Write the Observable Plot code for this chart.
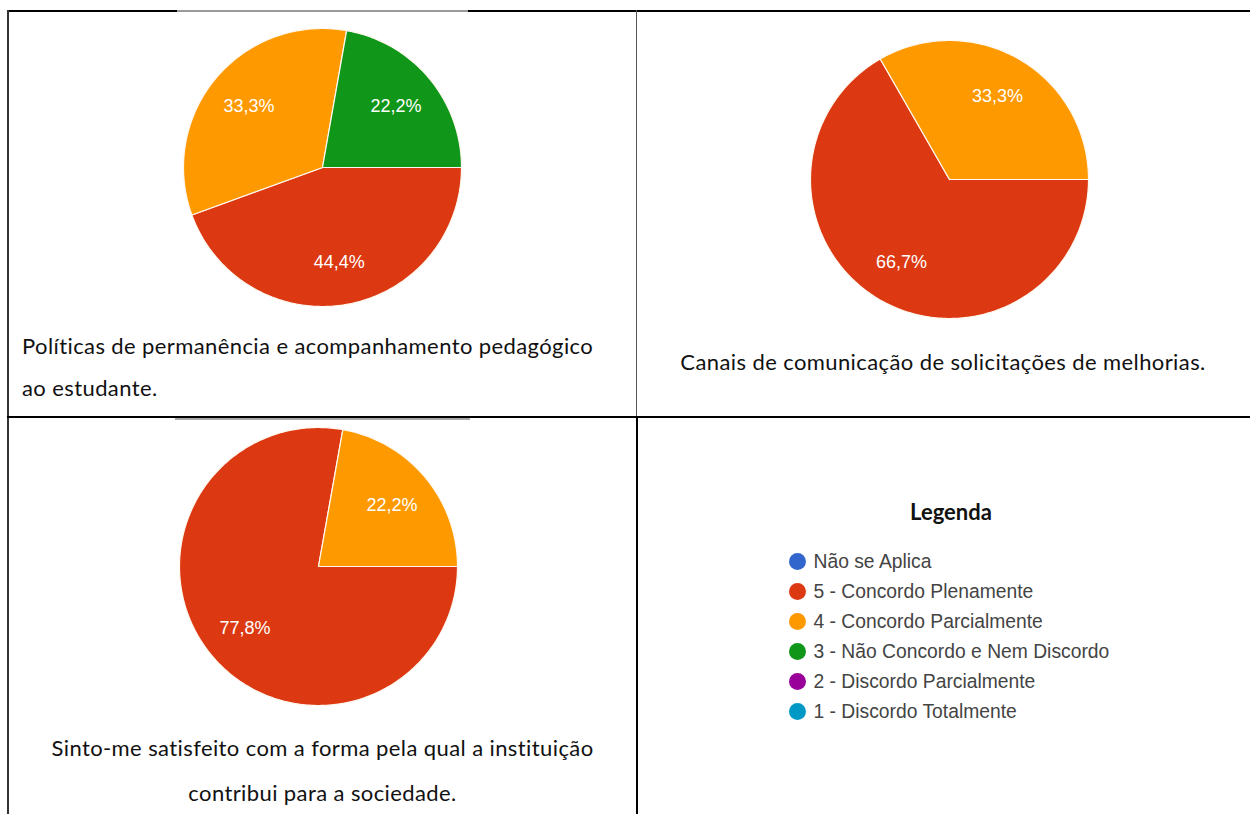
<!DOCTYPE html>
<html><head><meta charset="utf-8">
<script src="https://cdn.jsdelivr.net/npm/d3@7"></script>
<script src="https://cdn.jsdelivr.net/npm/@observablehq/plot@0.6"></script>
<style>
html,body{margin:0;padding:0;background:#fff;}
body{width:1250px;height:814px;position:relative;overflow:hidden;}
.cap{position:absolute;font-family:Lato,"Open Sans",sans-serif;font-size:22px;letter-spacing:0.4px;color:#111;line-height:42px;white-space:nowrap;}
.line{position:absolute;background:#000;}
</style></head><body>
<script>
// ---- data ----
const categories = ["Não se Aplica","5 - Concordo Plenamente","4 - Concordo Parcialmente","3 - Não Concordo e Nem Discordo","2 - Discordo Parcialmente","1 - Discordo Totalmente"];
const colors = ["#3366cc","#dc3912","#ff9900","#109618","#990099","#0099c6"];

const pie1Title = ["Políticas de permanência e acompanhamento pedagógico","ao estudante."];
const pie1Categories = ["5 - Concordo Plenamente","4 - Concordo Parcialmente","3 - Não Concordo e Nem Discordo"];
const pie1Values = [44.4, 33.3, 22.2];

const pie2Title = ["Canais de comunicação de solicitações de melhorias."];
const pie2Categories = ["5 - Concordo Plenamente","4 - Concordo Parcialmente"];
const pie2Values = [66.7, 33.3];

const pie3Title = ["Sinto-me satisfeito com a forma pela qual a instituição","contribui para a sociedade."];
const pie3Categories = ["5 - Concordo Plenamente","4 - Concordo Parcialmente"];
const pie3Values = [77.8, 22.2];

const legendTitle = "Legenda";

// ---- helpers ----
const fmt = d3.formatLocale({decimal:",", thousands:".", grouping:[3], currency:["R$",""]}).format(".1%");

function piePlot(cats, vals) {
  const arcs = d3.pie().sort(null).value(d => d)
    .startAngle(Math.PI/2).endAngle(Math.PI/2 + 2*Math.PI)(vals);
  const poly = [], labels = [];
  arcs.forEach((a, i) => {
    const n = Math.max(2, Math.ceil((a.endAngle - a.startAngle) / (Math.PI/180)));
    poly.push({slice:i, x:0, y:0, cat:cats[i]});
    for (let k = 0; k <= n; k++) {
      const t = a.startAngle + (a.endAngle - a.startAngle) * k / n;
      poly.push({slice:i, x:Math.sin(t), y:Math.cos(t), cat:cats[i]});
    }
    poly.push({slice:i, x:0, y:0, cat:cats[i]});
    const m = (a.startAngle + a.endAngle) / 2;
    labels.push({x:0.69*Math.sin(m), y:0.69*Math.cos(m), text:fmt(vals[i]/100)});
  });
  return Plot.plot({
    width:300, height:300, margin:11,
    style:{background:"transparent", overflow:"visible"},
    x:{domain:[-1,1], axis:null},
    y:{domain:[-1,1], axis:null},
    color:{domain:categories, range:colors},
    marks:[
      Plot.line(poly, {x:"x", y:"y", z:"slice", fill:"cat", stroke:"#fff8f0", strokeWidth:1.2, curve:"linear"}),
      Plot.text(labels, {x:"x", y:"y", text:"text", fill:"#fff", fontSize:18, fontFamily:"Liberation Sans, Arial, sans-serif"})
    ]
  });
}

function place(el, left, top) {
  el.style.position = "absolute";
  el.style.left = left + "px";
  el.style.top = top + "px";
  document.body.appendChild(el);
}
function div(cls, css, text) {
  const d = document.createElement("div");
  d.className = cls;
  Object.assign(d.style, css);
  if (text != null) d.textContent = text;
  document.body.appendChild(d);
  return d;
}

// ---- table borders ----
div("line", {left:"7px", top:"10px", width:"1243px", height:"2px"});
div("line", {left:"7px", top:"10px", width:"2px", height:"804px", background:"#333"});
div("line", {left:"636px", top:"10px", width:"1px", height:"407px", background:"#555"});
div("line", {left:"636px", top:"416px", width:"2px", height:"398px"});
div("line", {left:"7px", top:"416px", width:"1243px", height:"2px"});
// top edges of the chart images
div("line", {left:"177px", top:"10px", width:"291px", height:"2px", background:"#9a9a9a"});
div("line", {left:"175px", top:"418px", width:"295px", height:"1.5px", background:"#aaa"});

// ---- pies ----
place(piePlot(pie1Categories, pie1Values), 322-150, 167-150);
place(piePlot(pie2Categories, pie2Values), 949-150, 179-150);
place(piePlot(pie3Categories, pie3Values), 318-150, 566-150);

// ---- captions ----
div("cap", {left:"22px", top:(346-21)+"px"}, pie1Title[0]);
div("cap", {left:"22px", top:(388-21)+"px"}, pie1Title[1]);
div("cap", {left:"637px", width:"612px", textAlign:"center", top:(362-21)+"px"}, pie2Title[0]);
div("cap", {left:"9px", width:"627px", textAlign:"center", top:(748-21)+"px"}, pie3Title[0]);
div("cap", {left:"9px", width:"627px", textAlign:"center", top:(793-21)+"px"}, pie3Title[1]);

// ---- legend ----
div("cap", {left:"851px", width:"200px", textAlign:"center", top:(512-21)+"px", fontWeight:"bold", letterSpacing:"0px"}, legendTitle);
const legend = Plot.plot({
  width:380, height:184, margin:0,
  style:{background:"transparent", overflow:"visible"},
  y:{type:"point", domain:categories, padding:0.5, axis:null},
  color:{domain:categories, range:colors},
  marks:[
    Plot.dot(categories, {y:d => d, fill:d => d, r:8.5, frameAnchor:"left", dx:17}),
    Plot.text(categories, {y:d => d, text:d => d, frameAnchor:"left", dx:33, textAnchor:"start",
      fill:"#444", fontSize:19.3, fontFamily:"Liberation Sans, Arial, sans-serif"})
  ]
});
place(legend, 780, 544);
</script>
</body></html>
